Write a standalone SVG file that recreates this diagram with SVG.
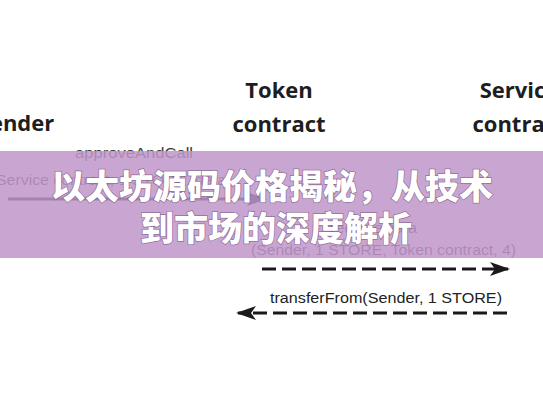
<svg xmlns="http://www.w3.org/2000/svg" width="543" height="408" viewBox="0 0 543 408">
<defs>
<style>
.hdr{font-family:"Open Sans","Liberation Sans",sans-serif;font-weight:700;font-size:22px;fill:#1e1e1e;text-anchor:middle}
.msg{font-family:"Liberation Sans","DejaVu Sans",sans-serif;font-size:14px;fill:#3a3a3a}
.conn{stroke:#1a1a1a;stroke-width:3;fill:none}
.dash{stroke-dasharray:14 6}
.title{font-family:"Noto Sans CJK SC","Noto Sans",sans-serif;font-weight:900;font-size:34px;fill:#ffffff;text-anchor:middle;stroke:#5a3a60;stroke-width:1.5;stroke-opacity:0.5;paint-order:stroke}
</style>
<marker id="ah" viewBox="0 0 20 14" refX="18" refY="7" markerWidth="20" markerHeight="14" markerUnits="userSpaceOnUse" orient="auto-start-reverse">
<path d="M0,0 L20,7 L0,14 L5,7 Z" fill="#1a1a1a"/>
</marker>
</defs>
<rect width="543" height="408" fill="#ffffff"/>
<g id="sender"><text class="hdr" x="16" y="131">Sender</text></g>
<g id="token"><text class="hdr" x="279" y="98">Token</text><text class="hdr" x="279" y="132">contract</text></g>
<g id="service"><text class="hdr" x="519" y="98">Service</text><text class="hdr" x="519" y="132">contract</text></g>
<g id="connectors">
<text class="msg" x="75" y="158" textLength="118" lengthAdjust="spacingAndGlyphs">approveAndCall</text>
<text class="msg" x="-4" y="185" textLength="230" lengthAdjust="spacingAndGlyphs">Service contract, 1 STORE, data</text>
<line class="conn" x1="8" y1="199" x2="265" y2="199" marker-end="url(#ah)"/>
<text class="msg" x="330" y="233" textLength="87" lengthAdjust="spacingAndGlyphs">receiveData</text>
<text class="msg" x="251" y="255" textLength="265" lengthAdjust="spacingAndGlyphs">(Sender, 1 STORE, Token contract, 4)</text>
<line class="conn dash" x1="262" y1="269" x2="508" y2="269" marker-end="url(#ah)"/>
<text class="msg" x="270" y="303" textLength="232" lengthAdjust="spacingAndGlyphs" style="fill:#222">transferFrom(Sender, 1 STORE)</text>
<line class="conn dash" x1="507" y1="313" x2="238" y2="313" marker-end="url(#ah)"/>
</g>
<rect x="0" y="151" width="543" height="107" fill="#c096ca" fill-opacity="0.85"/>
<g id="title">
<text class="title" x="272" y="199">以太坊源码价格揭秘，从技术</text>
<text class="title" x="276" y="241">到市场的深度解析</text>
</g>
</svg>
